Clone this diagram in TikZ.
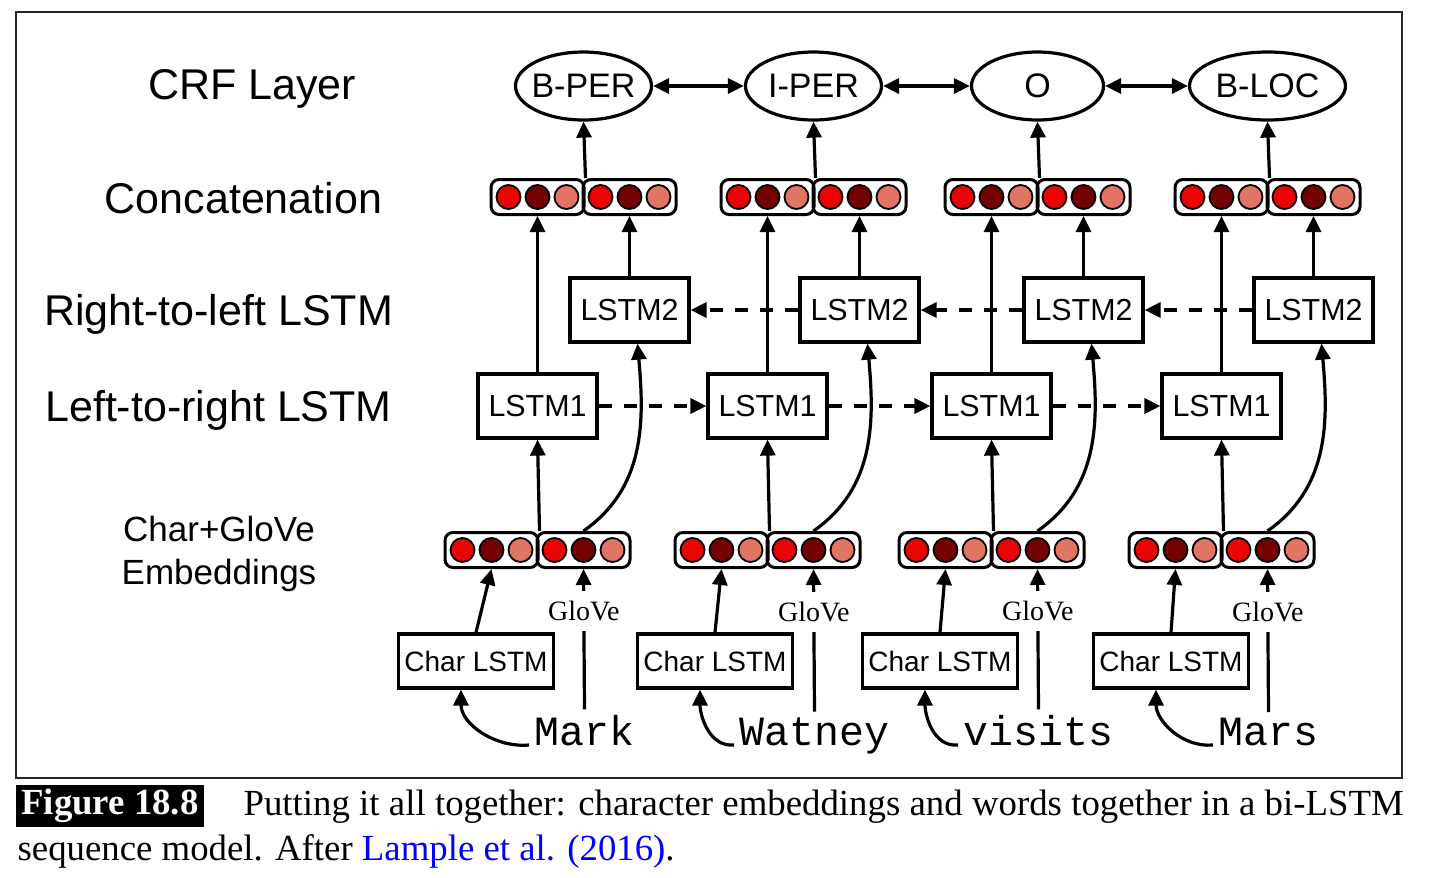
\documentclass[tikz,border=0pt]{standalone}
\usepackage{fontspec}
\setmainfont{Liberation Sans}
\setmonofont{Liberation Mono}
\newfontfamily\capfont{Liberation Serif}
\usepackage{xcolor}
\usepackage{tikz}
\usetikzlibrary{arrows.meta,shapes.geometric,positioning,calc}
\definecolor{unitred}{RGB}{232,4,4}
\definecolor{unitdark}{RGB}{116,0,0}
\definecolor{unitpink}{RGB}{226,116,100}
\definecolor{citeblue}{RGB}{0,0,255}

\begin{document}
\begin{tikzpicture}[x=0.5pt,y=0.5pt,line width=1.6pt,
  arr/.style={-{Triangle[length=8pt,width=7.5pt]}},
  dasharr/.style={arr,dash pattern=on 6.5pt off 6pt},
  biarr/.style={{Triangle[length=8pt,width=7.5pt]}-{Triangle[length=8pt,width=7.5pt]}},
  crfnode/.style={draw,ellipse,minimum width=68pt,minimum height=34pt,inner xsep=-2.5pt,inner ysep=0pt,font=\fontsize{17}{20}\selectfont},
  lstmbox/.style={draw,rectangle,minimum width=59.5pt,minimum height=32pt,inner sep=0pt,font=\fontsize{15.2}{18}\selectfont},
  charbox/.style={draw,rectangle,minimum width=77.5pt,minimum height=27pt,inner sep=0pt,font=\fontsize{14}{17}\selectfont},
  vecbox/.style={draw,rectangle,rounded corners=4pt,minimum width=46.5pt,minimum height=17.5pt,inner sep=0pt,line width=1.5pt},
  unit/.style={draw,circle,minimum size=12pt,inner sep=0pt,line width=0.9pt},
  layerlab/.style={anchor=base,inner sep=0pt,font=\fontsize{21.5}{26}\selectfont},
  wordlab/.style={anchor=base,inner sep=2pt,font=\ttfamily\fontsize{20.8}{24}\selectfont},
  glovelab/.style={fill=white,inner sep=5pt,font=\capfont\fontsize{14}{16}\selectfont},
  captext/.style={anchor=base west,inner sep=0pt,font=\capfont\fontsize{18.4}{22}\selectfont}]
  \useasboundingbox (0,0) rectangle (1430,-878);
  % ---- frame ----
  \draw[line width=0.8pt,black!85] (16,-12) rectangle (1402,-778);
  % ---- layer names ----
  \node[layerlab] (lblcrf) at (252,-99) {CRF Layer};
  \node[layerlab] (lblcat) at (243.5,-213) {Concatenation};
  \node[layerlab] (lblrl) at (218.5,-325) {Right-to-left LSTM};
  \node[layerlab] (lbllr) at (218.5,-421) {Left-to-right LSTM};
  \node[align=center,font=\fontsize{17.5}{21.7}\selectfont] (lblemb) at (219,-554) {Char+GloVe\\Embeddings};
  % ---- CRF layer ----
  \node[crfnode] (crf1) at (583.5,-86) {B-PER};
  \node[crfnode] (crf2) at (813.5,-86) {I-PER};
  \node[crfnode,minimum width=66pt] (crf3) at (1037.5,-86) {O};
  \node[crfnode,minimum width=78pt] (crf4) at (1267.5,-86) {B-LOC};
  % ---- one column per word ----
  \foreach \i/\xa/\xc/\word in {1/537.5/476/Mark,2/767.5/715/Watney,3/991.5/940/visits,4/1221.5/1171/Mars}{
    \node[lstmbox] (lf\i) at (\xa,-406) {LSTM1};
    \node[lstmbox] (rl\i) at (\xa+92,-310) {LSTM2};
    \node[vecbox] (cat\i-a) at (\xa,-197) {};
    \node[vecbox] (cat\i-b) at (\xa+92,-197) {};
    \node[vecbox] (emb\i-a) at (\xa-46,-550) {};
    \node[vecbox] (emb\i-b) at (\xa+46,-550) {};
    \foreach \v in {cat,emb}{
      \foreach \s in {a,b}{
        \foreach \k/\col in {1/unitred,2/unitdark,3/unitpink}{
          \node[unit,fill=\col] (\v\i-\s\k) at ($(\v\i-\s)+({(\k-2)*29},0)$) {};}}}
    \node[charbox] (chr\i) at (\xc,-661) {Char LSTM};
    \node[wordlab] (wd\i) at (\xa+47,-745) {\word};
    % connectors
    \draw[arr] (cat\i-a.north east) -- (crf\i.south);
    \draw[arr] (lf\i.north) -- (cat\i-a.south);
    \draw[arr] (rl\i.north) -- (cat\i-b.south);
    \draw[arr] (emb\i-a.north east) -- (lf\i.south);
    \draw[arr] (emb\i-b.north) to[out=35,in=-85] ($(rl\i.south)+(8,0)$);
    \draw[arr] (chr\i.north) -- (emb\i-a.south);
    \draw[arr] (wd\i.north) -- node[glovelab,pos=0.7] (gl\i) {GloVe} (emb\i-b.south);
    \draw[arr] (wd\i.base west) to[out=185,in=-90] ($(chr\i.south)+(-15,0)$);
  }
  % ---- links between neighbouring columns ----
  \foreach \i/\j in {1/2,2/3,3/4}{
    \draw[biarr] (crf\i.east) -- (crf\j.west);
    \draw[dasharr] (lf\i.east) -- (lf\j.west);
    \draw[dasharr] (rl\j.west) -- (rl\i.east);
  }
  % ---- caption ----
  \node[fill=black,text=white,inner sep=0pt,minimum width=94pt,minimum height=21pt,
        font=\capfont\bfseries\fontsize{18.4}{22}\selectfont] (fignum) at (110,-805.5) {Figure 18.8};
  \node[captext] (capline1) at (242,-815) {\makebox[580pt][s]{Putting it all together: character embeddings and words together in a bi-LSTM}};
  \node[captext] (capline2) at (16,-860) {sequence model. After \textcolor{citeblue}{Lample et al. (2016)}.};
\end{tikzpicture}
\end{document}
